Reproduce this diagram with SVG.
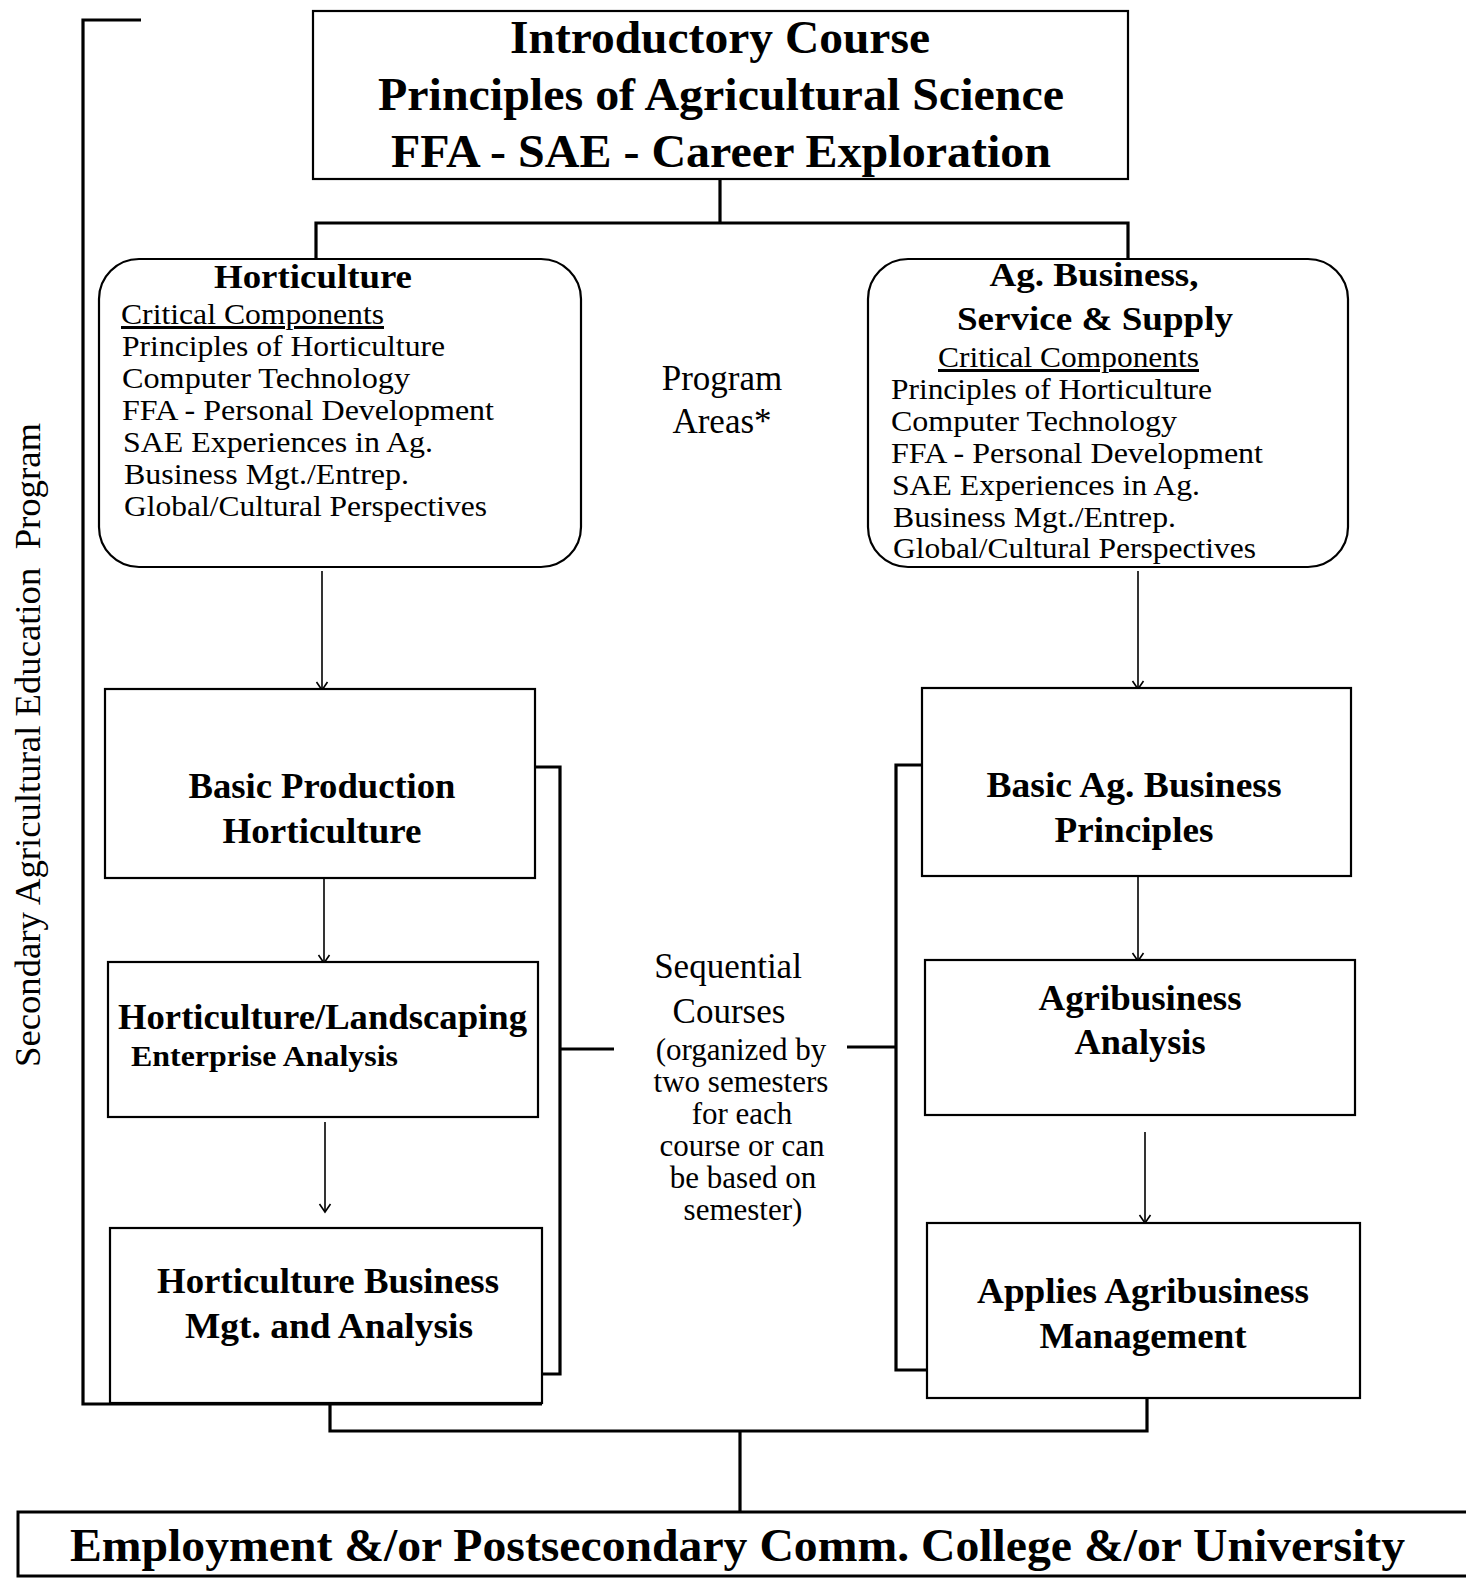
<svg xmlns="http://www.w3.org/2000/svg" width="1466" height="1578" viewBox="0 0 1466 1578">
  <style>
    .box { fill: #fff; stroke: #000; stroke-width: 2.2; }
    .wire { fill: none; stroke: #000; stroke-width: 3.2; }
    .arrow { fill: none; stroke: #000; stroke-width: 1.6; marker-end: url(#chev); }
    text { font-family: "Liberation Serif", "Times New Roman", serif; fill: #000; }
    .title { font-weight: bold; font-size: 46px; text-anchor: middle; }
    .head { font-weight: bold; font-size: 34px; text-anchor: middle; }
    .course { font-weight: bold; font-size: 35px; text-anchor: middle; }
    .item { font-size: 30px; }
    .note { font-size: 35px; text-anchor: middle; }
    .small { font-size: 31px; text-anchor: middle; }
  </style>
  <defs>
    <marker id="chev" markerUnits="userSpaceOnUse" markerWidth="20" markerHeight="20" refX="10" refY="10" orient="auto" viewBox="0 0 20 20">
      <path d="M2,4.5 L10,10 L2,15.5" fill="none" stroke="#000" stroke-width="1.6"/>
    </marker>
  </defs>

  <!-- connectors -->
  <g id="connectors">
    <!-- program bracket down the left side -->
    <path class="wire" d="M141,20 H83 V1404 H542"/>
    <!-- intro course to the two program areas -->
    <path class="wire" d="M720,179 V223"/>
    <path class="wire" d="M316,259 V223 H1128 V259"/>
    <!-- area boxes to first courses -->
    <line class="arrow" x1="322" y1="571" x2="322" y2="690"/>
    <line class="arrow" x1="1138" y1="571" x2="1138" y2="689"/>
    <!-- course sequences -->
    <line class="arrow" x1="324" y1="878" x2="324" y2="963"/>
    <line class="arrow" x1="325" y1="1122" x2="325" y2="1212"/>
    <line class="arrow" x1="1138" y1="876" x2="1138" y2="961"/>
    <line class="arrow" x1="1145" y1="1132" x2="1145" y2="1223"/>
    <!-- sequence brackets -->
    <path class="wire" d="M535,767 H560 V1374 H542"/>
    <path class="wire" d="M560,1049 H614"/>
    <path class="wire" d="M922,765 H896 V1370 H927"/>
    <path class="wire" d="M847,1047 H896"/>
    <!-- outcomes -->
    <path class="wire" d="M330,1403 V1431 H1147 V1398"/>
    <path class="wire" d="M740,1431 V1512"/>
  </g>

  <!-- introductory course -->
  <g id="intro">
    <rect class="box" x="313" y="11" width="815" height="168"/>
    <text class="title" x="720" y="53" textLength="420" lengthAdjust="spacingAndGlyphs">Introductory Course</text>
    <text class="title" x="721" y="110" textLength="686" lengthAdjust="spacingAndGlyphs">Principles of Agricultural Science</text>
    <text class="title" x="721" y="167" textLength="660" lengthAdjust="spacingAndGlyphs">FFA - SAE - Career Exploration</text>
  </g>

  <!-- horticulture program area -->
  <g id="horticulture">
    <rect class="box" x="99" y="259" width="482" height="308" rx="40" ry="40"/>
    <text class="head" x="313" y="288" textLength="198" lengthAdjust="spacingAndGlyphs">Horticulture</text>
    <text class="item" x="121" y="324" text-decoration="underline" textLength="263" lengthAdjust="spacingAndGlyphs">Critical Components</text>
    <text class="item" x="122" y="356" textLength="323" lengthAdjust="spacingAndGlyphs">Principles of Horticulture</text>
    <text class="item" x="122" y="388" textLength="288" lengthAdjust="spacingAndGlyphs">Computer Technology</text>
    <text class="item" x="122" y="420" textLength="372" lengthAdjust="spacingAndGlyphs">FFA - Personal Development</text>
    <text class="item" x="123" y="452" textLength="310" lengthAdjust="spacingAndGlyphs">SAE Experiences in Ag.</text>
    <text class="item" x="124" y="484" textLength="285" lengthAdjust="spacingAndGlyphs">Business Mgt./Entrep.</text>
    <text class="item" x="124" y="516" textLength="363" lengthAdjust="spacingAndGlyphs">Global/Cultural Perspectives</text>
  </g>

  <!-- ag business program area -->
  <g id="agbusiness">
    <rect class="box" x="868" y="259" width="480" height="308" rx="40" ry="40"/>
    <text class="head" x="1094" y="286" textLength="209" lengthAdjust="spacingAndGlyphs">Ag. Business,</text>
    <text class="head" x="1095" y="330" textLength="276" lengthAdjust="spacingAndGlyphs">Service &amp; Supply</text>
    <text class="item" x="938" y="367" text-decoration="underline" textLength="261" lengthAdjust="spacingAndGlyphs">Critical Components</text>
    <text class="item" x="891" y="399" textLength="321" lengthAdjust="spacingAndGlyphs">Principles of Horticulture</text>
    <text class="item" x="891" y="431" textLength="286" lengthAdjust="spacingAndGlyphs">Computer Technology</text>
    <text class="item" x="891" y="463" textLength="372" lengthAdjust="spacingAndGlyphs">FFA - Personal Development</text>
    <text class="item" x="892" y="495" textLength="308" lengthAdjust="spacingAndGlyphs">SAE Experiences in Ag.</text>
    <text class="item" x="893" y="527" textLength="283" lengthAdjust="spacingAndGlyphs">Business Mgt./Entrep.</text>
    <text class="item" x="893" y="558" textLength="363" lengthAdjust="spacingAndGlyphs">Global/Cultural Perspectives</text>
  </g>

  <g id="program-areas">
    <text class="note" x="722" y="390">Program</text>
    <text class="note" x="722" y="433">Areas*</text>
  </g>

  <!-- horticulture courses -->
  <g id="basic-production">
    <rect class="box" x="105" y="689" width="430" height="189"/>
    <text class="course" x="322" y="798" textLength="267" lengthAdjust="spacingAndGlyphs">Basic Production</text>
    <text class="course" x="322" y="843" textLength="199" lengthAdjust="spacingAndGlyphs">Horticulture</text>
  </g>
  <g id="landscaping">
    <rect class="box" x="108" y="962" width="430" height="155"/>
    <text class="course" x="118" y="1029" style="text-anchor:start" textLength="409" lengthAdjust="spacingAndGlyphs">Horticulture/Landscaping</text>
    <text x="131" y="1066" font-weight="bold" font-size="29" textLength="267" lengthAdjust="spacingAndGlyphs">Enterprise Analysis</text>
  </g>
  <g id="hort-business">
    <rect class="box" x="110" y="1228" width="432" height="175"/>
    <text class="course" x="328" y="1293" textLength="342" lengthAdjust="spacingAndGlyphs">Horticulture Business</text>
    <text class="course" x="329" y="1338" textLength="288" lengthAdjust="spacingAndGlyphs">Mgt. and Analysis</text>
  </g>

  <!-- ag business courses -->
  <g id="basic-agbusiness">
    <rect class="box" x="922" y="688" width="429" height="188"/>
    <text class="course" x="1134" y="797" textLength="295" lengthAdjust="spacingAndGlyphs">Basic Ag. Business</text>
    <text class="course" x="1134" y="842" textLength="159" lengthAdjust="spacingAndGlyphs">Principles</text>
  </g>
  <g id="agribusiness-analysis">
    <rect class="box" x="925" y="960" width="430" height="155"/>
    <text class="course" x="1140" y="1010" textLength="203" lengthAdjust="spacingAndGlyphs">Agribusiness</text>
    <text class="course" x="1140" y="1054" textLength="131" lengthAdjust="spacingAndGlyphs">Analysis</text>
  </g>
  <g id="agribusiness-management">
    <rect class="box" x="927" y="1223" width="433" height="175"/>
    <text class="course" x="1143" y="1303" textLength="332" lengthAdjust="spacingAndGlyphs">Applies Agribusiness</text>
    <text class="course" x="1143" y="1348" textLength="207" lengthAdjust="spacingAndGlyphs">Management</text>
  </g>

  <g id="sequential">
    <text class="note" x="728" y="978">Sequential</text>
    <text class="note" x="729" y="1023">Courses</text>
    <text class="small" x="741" y="1060">(organized by</text>
    <text class="small" x="741" y="1092">two semesters</text>
    <text class="small" x="742" y="1124">for each</text>
    <text class="small" x="742" y="1156">course or can</text>
    <text class="small" x="743" y="1188">be based on</text>
    <text class="small" x="743" y="1220">semester)</text>
  </g>

  <g id="program-label">
    <text transform="translate(40,1067) rotate(-90)" font-size="35" textLength="644" lengthAdjust="spacingAndGlyphs" xml:space="preserve">Secondary Agricultural Education  Program</text>
  </g>

  <!-- outcome -->
  <g id="outcome">
    <rect x="18" y="1512" width="1470" height="64" fill="#fff" stroke="#000" stroke-width="3"/>
    <text x="70" y="1561" font-weight="bold" font-size="46" textLength="1335" lengthAdjust="spacingAndGlyphs">Employment &amp;/or Postsecondary Comm. College &amp;/or University</text>
  </g>
</svg>
